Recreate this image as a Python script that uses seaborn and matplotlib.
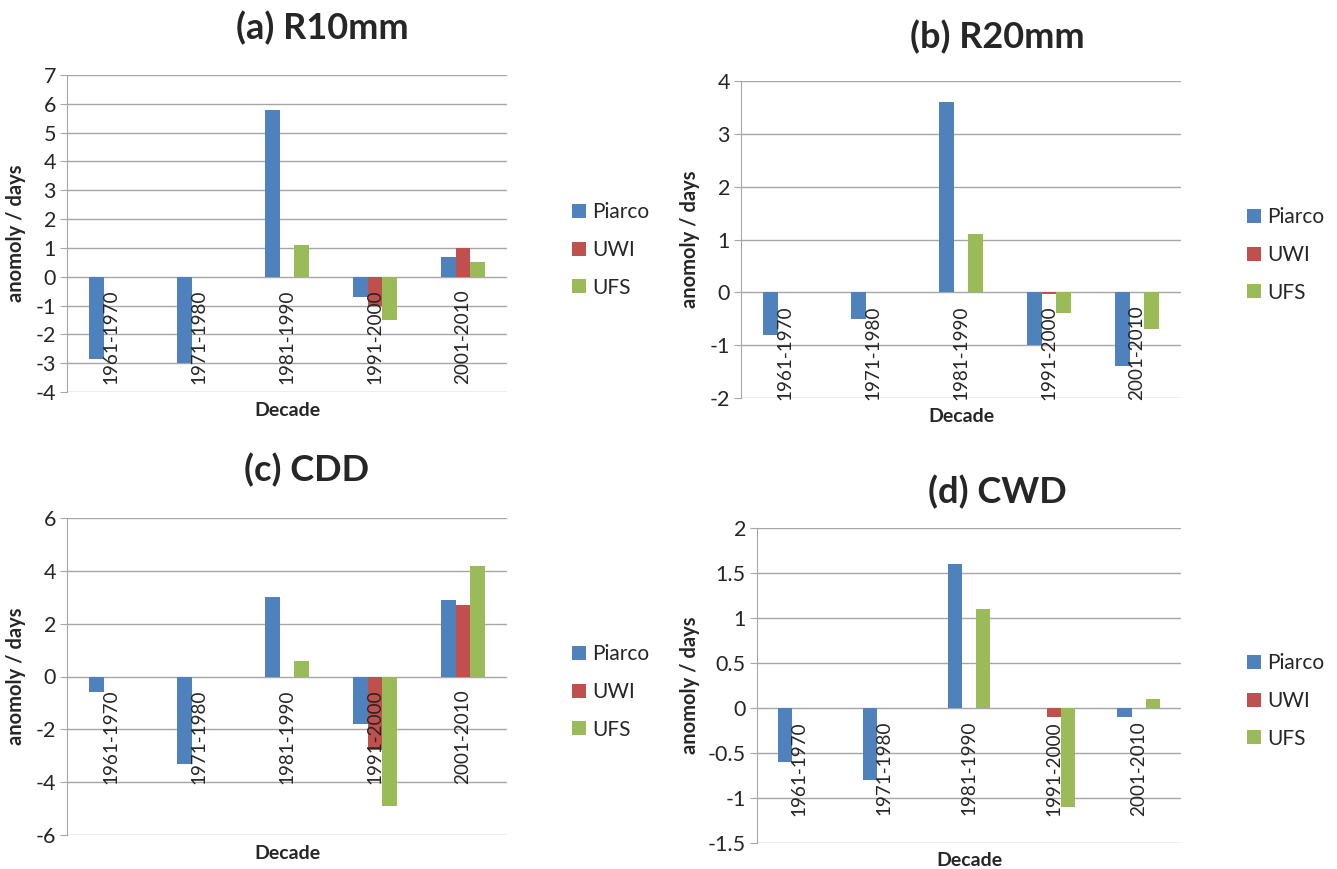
import pandas as pd
import numpy as np
import matplotlib.pyplot as plt
import seaborn as sns
from matplotlib.patches import Patch
from matplotlib.transforms import offset_copy

# data
decades = ["1961-1970", "1971-1980", "1981-1990", "1991-2000", "2001-2010"]
stations = ["Piarco", "UWI", "UFS"]
colors = ["#4F81BD", "#C0504D", "#9BBB59"]

r10_piarco = [-2.85, -3.0, 5.8, -0.7, 0.7]
r10_uwi = [0, 0, 0, -1.0, 1.0]
r10_ufs = [0, 0, 1.1, -1.5, 0.5]

r20_piarco = [-0.8, -0.5, 3.6, -1.0, -1.4]
r20_uwi = [0, 0, 0, -0.03, 0]
r20_ufs = [0, 0, 1.1, -0.4, -0.7]

cdd_piarco = [-0.6, -3.3, 3.0, -1.8, 2.9]
cdd_uwi = [0, 0, 0, -2.8, 2.7]
cdd_ufs = [0, 0, 0.6, -4.9, 4.2]

cwd_piarco = [-0.6, -0.8, 1.6, 0, -0.1]
cwd_uwi = [0, 0, 0, -0.1, 0]
cwd_ufs = [0, 0, 1.1, -1.1, 0.1]

sns.set_style("white")
plt.rcParams['font.family'] = ['Lato', 'DejaVu Sans']
plt.rcParams['axes.unicode_minus'] = False

W, H = 1337, 869
fig = plt.figure(figsize=(W / 100, H / 100), dpi=100)


def px_axes(left, top, right, bottom):
    return fig.add_axes([left / W, (H - bottom) / H, (right - left) / W, (bottom - top) / H])


def make_df(p, u, f):
    rows = []
    for s, vals in zip(stations, [p, u, f]):
        for d, v in zip(decades, vals):
            rows.append({"Decade": d, "Station": s, "anomaly": v})
    return pd.DataFrame(rows)


panels = [
    # title, values, axes box (px), ylim, ystep, title pos, legend pos, ylabel x, xlabel y
    ("(a) R10mm", (r10_piarco, r10_uwi, r10_ufs), (67, 75, 507, 392), (-4, 7), 1, (322, 28), (572, 250), -0.093, -0.032),
    ("(b) R20mm", (r20_piarco, r20_uwi, r20_ufs), (741, 81, 1181, 398), (-2, 4), 1, (997, 37), (1247, 255), -0.093, -0.032),
    ("(c) CDD", (cdd_piarco, cdd_uwi, cdd_ufs), (67, 518, 507, 835), (-6, 6), 2, (307, 470), (572, 692), -0.093, -0.032),
    ("(d) CWD", (cwd_piarco, cwd_uwi, cwd_ufs), (757, 528, 1181, 843), (-1.5, 2), 0.5, (997, 492), (1247, 701), -0.134, -0.03),
]

grid_col = "#A6A6A6"

for title, vals, box, ylim, ystep, tpos, lpos, ylx, xly in panels:
    ax = px_axes(*box)
    df = make_df(*vals)
    sns.barplot(data=df, x="Decade", y="anomaly", hue="Station", palette=colors,
                width=0.5, saturation=1, errorbar=None, legend=False, ax=ax,
                linewidth=0, edgecolor="none")
    ax.set_xlim(-0.5, 4.5)
    ax.set_ylim(*ylim)
    ticks = np.arange(ylim[0], ylim[1] + ystep / 2, ystep)
    ax.set_yticks(ticks)
    ax.set_yticklabels([f"{t:g}" for t in ticks], fontsize=15.5)
    ax.yaxis.grid(True, color=grid_col, lw=1)
    ax.set_axisbelow(True)
    for s in ["top", "right", "bottom"]:
        ax.spines[s].set_visible(False)
    ax.spines["left"].set_color(grid_col)
    ax.tick_params(axis="y", length=5, color=grid_col, pad=3, left=True)
    ax.set_xticks([])

    # category labels hang under the zero line, rotated like Excel
    trans = offset_copy(ax.transData, fig=fig, y=-13, units="dots")
    for i, d in enumerate(decades):
        ax.text(i, 0, d, rotation=90, ha="center", va="top", fontsize=13.6, transform=trans)

    ax.set_ylabel("anomoly / days", fontsize=14.5, fontweight="bold")
    ax.yaxis.set_label_coords(ylx, 0.5)
    ax.set_xlabel("Decade", fontsize=14, fontweight="bold")
    ax.xaxis.set_label_coords(0.5, xly)

    fig.text(tpos[0] / W, 1 - tpos[1] / H, title, fontsize=26, fontweight="bold",
             ha="center", va="center")

    handles = [Patch(facecolor=c, edgecolor="none") for c in colors]
    ax.legend(handles, stations, loc="center left", bbox_to_anchor=(lpos[0] / W, 1 - lpos[1] / H),
              bbox_transform=fig.transFigure, frameon=False, fontsize=15,
              handlelength=0.65, handleheight=0.65, handletextpad=0.3, labelspacing=0.85,
              borderpad=0, borderaxespad=0)

fig.savefig("out.png", dpi=100, facecolor="white")
